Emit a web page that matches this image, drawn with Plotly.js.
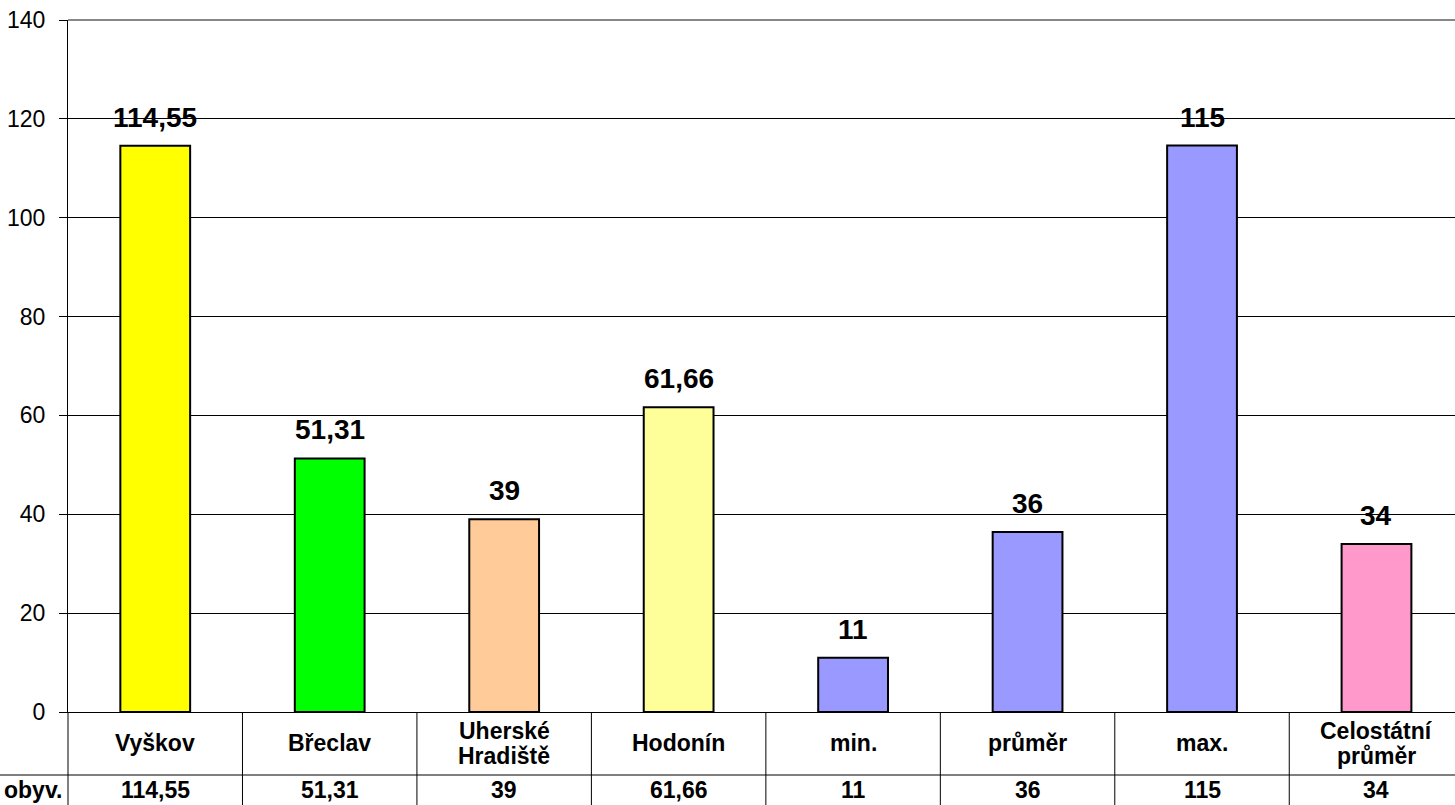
<!DOCTYPE html>
<html>
<head>
<meta charset="utf-8">
<script src="https://cdn.plot.ly/plotly-3.0.1.min.js"></script>
<style>html,body{margin:0;padding:0;background:#fff;overflow:hidden;}#chart{width:1455px;height:805px;}</style>
</head>
<body>
<div id="chart"></div>
<script>
const categories = ["Vyškov", "Břeclav", "Uherské<br>Hradiště", "Hodonín", "min.", "průměr", "max.", "Celostátní<br>průměr"];
const values = [114.55, 51.31, 39, 61.66, 11, 36.4, 114.6, 34];
const valueLabels = ["114,55", "51,31", "39", "61,66", "11", "36", "115", "34"];
const barColors = ["#FFFF00", "#00FF00", "#FFCC99", "#FFFF99", "#9999FF", "#9999FF", "#9999FF", "#FF99CC"];
const rowLabel = "obyv.";
const yTicks = [0, 20, 40, 60, 80, 100, 120, 140];

const FONT = "'Liberation Sans', Arial, sans-serif";

const trace = {
  type: "bar",
  x: categories.map((c, i) => i),
  y: values,
  width: 0.4,
  marker: { color: barColors, line: { color: "#000", width: 2 } },
  hoverinfo: "skip"
};

const annotations = [];
const shapes = [];

categories.forEach((c, i) => {
  // value label above bar
  annotations.push({
    x: i, y: values[i], xref: "x", yref: "y",
    text: "<b>" + valueLabels[i] + "</b>", showarrow: false,
    xanchor: "center", yanchor: "bottom", yshift: 11,
    font: { family: FONT, size: 28, color: "#000" }
  });
  // category label in table row 1
  const lines = c.split("<br>");
  lines.forEach((ln, k) => {
    const offset = lines.length === 1 ? -31 : (k === 0 ? -19 : -44);
    annotations.push({
      x: i, y: 0, xref: "x", yref: "paper",
      text: "<b>" + ln + "</b>", showarrow: false,
      xanchor: "center", yanchor: "middle", yshift: offset,
      font: { family: FONT, size: 23, color: "#000" }
    });
  });
  // value in table row 2
  annotations.push({
    x: i, y: 0, xref: "x", yref: "paper",
    text: "<b>" + valueLabels[i] + "</b>", showarrow: false,
    xanchor: "center", yanchor: "middle", yshift: -78,
    font: { family: FONT, size: 23, color: "#000" }
  });
  if (i > 0) {
    shapes.push({ type: "line", xref: "x", yref: "paper", x0: i - 0.5, x1: i - 0.5, y0: 0, y1: -0.3,
      line: { color: "#000", width: 1 } });
  }
});

annotations.push({
  x: 0, y: 0, xref: "paper", yref: "paper",
  text: "<b>" + rowLabel + "</b>", showarrow: false,
  xanchor: "right", yanchor: "middle", xshift: -4, yshift: -78,
  font: { family: FONT, size: 23, color: "#000" }
});

// table left border (continuation of y axis)
shapes.push({ type: "line", xref: "paper", yref: "paper", x0: 0, x1: 0, y0: 0, y1: -0.3,
  line: { color: "#000", width: 1 } });
// table row separator
shapes.push({ type: "line", xref: "paper", yref: "paper", x0: -0.1, x1: 1.1,
  ysizemode: "pixel", yanchor: 0, y0: -63, y1: -63, line: { color: "#000", width: 1 } });
// top border grey
shapes.push({ type: "line", xref: "paper", yref: "paper", x0: 0, x1: 1, y0: 1, y1: 1,
  line: { color: "#888", width: 2 } });

const layout = {
  width: 1455, height: 805,
  margin: { l: 68, r: 0, t: 20, b: 93, pad: 0 },
  paper_bgcolor: "#fff", plot_bgcolor: "#fff",
  showlegend: false,
  font: { family: FONT, color: "#000" },
  xaxis: {
    range: [-0.5, 7.45], showticklabels: false, ticks: "", showgrid: false,
    zeroline: false, showline: true, linecolor: "#000", linewidth: 1, fixedrange: true
  },
  yaxis: {
    range: [0, 140], tickvals: yTicks, ticktext: yTicks.map(String),
    ticks: "outside", ticklen: 8, tickcolor: "#000", tickwidth: 1,
    ticklabelstandoff: 9,
    showgrid: true, gridcolor: "#000", gridwidth: 1,
    zeroline: false, showline: true, linecolor: "#000", linewidth: 1,
    tickfont: { family: FONT, size: 23, color: "#000" }, fixedrange: true
  },
  annotations: annotations,
  shapes: shapes
};

Plotly.newPlot("chart", [trace], layout, { displayModeBar: false, staticPlot: true });
</script>
</body>
</html>
